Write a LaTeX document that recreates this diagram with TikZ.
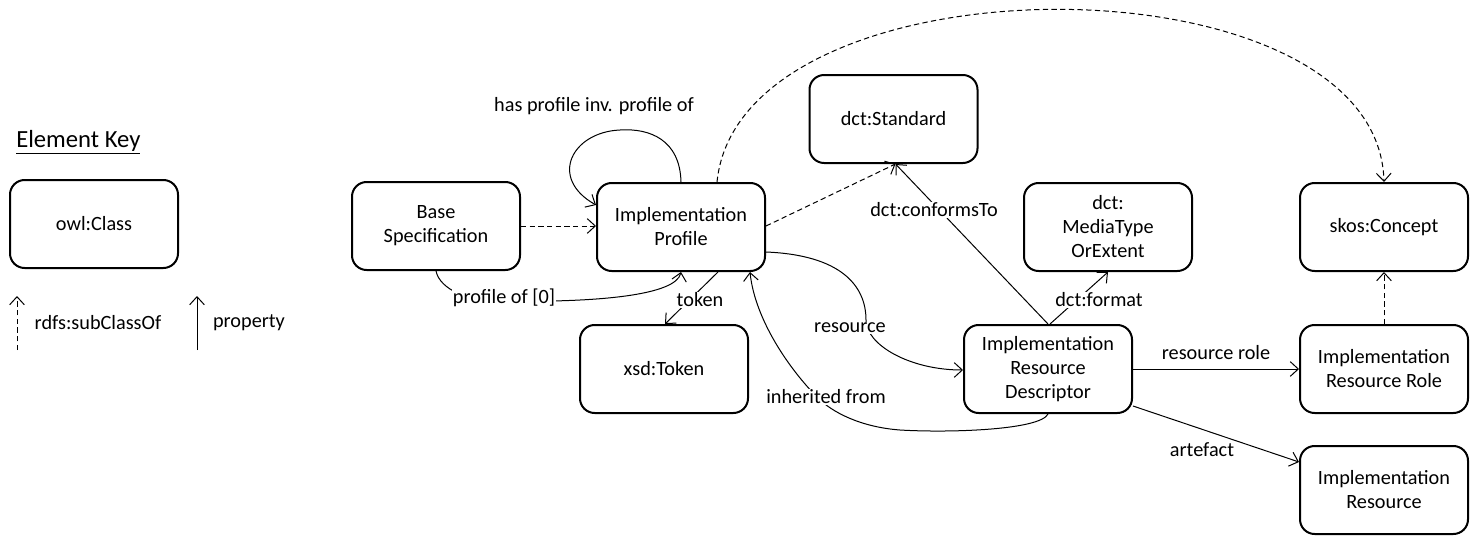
\documentclass[tikz,border=0pt]{standalone}
\usepackage{fontspec}
\setmainfont{Carlito}
\usetikzlibrary{arrows.meta,calc}
\begin{document}
\begin{tikzpicture}[x=0.75pt,y=-0.75pt,
  cls/.style={draw,line width=1.5pt,rounded corners=11pt,minimum width=126pt,minimum height=66pt,align=center,inner sep=2pt,font=\fontsize{15.2}{18}\selectfont},
  lbl/.style={fill=white,inner sep=1pt,font=\fontsize{15.2}{18}\selectfont},
  txt/.style={inner sep=1pt,font=\fontsize{15.2}{18}\selectfont},
  prop/.style={line width=0.75pt,-{Straight Barb[length=6pt,width=11pt,line width=0.75pt]}},
  sub/.style={prop,dash pattern=on 4pt off 2.5pt}]
\useasboundingbox (0,0) rectangle (1474,550);
% key
\node[inner sep=0pt,anchor=west,font=\fontsize{18.5}{20}\selectfont] (keyt) at (16,142) {\underline{Element Key}};
\node[cls] (key) at (94,224) {owl:Class};
\coordinate (ka1) at (17,350); \coordinate (ka2) at (17,296);
\coordinate (kb1) at (197,350); \coordinate (kb2) at (197,296);
\draw[sub] (ka1) -- (ka2);
\draw[prop] (kb1) -- (kb2);
\node[txt] (ksub) at (98,323) {rdfs:subClassOf};
\node[txt] (kprop) at (249,323) {property};
% classes
\node[cls] (base) at (436,226) {Base\\Specification};
\node[cls] (prof) at (681,227) {Implementation\\Profile};
\node[cls] (token) at (664,369) {xsd:Token};
\node[cls] (std) at (893.5,119) {dct:Standard};
\node[cls] (mt) at (1108,227) {dct:\\MediaType\\OrExtent};
\node[cls] (ird) at (1048,369) {Implementation\\Resource\\Descriptor};
\node[cls] (concept) at (1384,227) {skos:Concept};
\node[cls] (irr) at (1384,369) {Implementation\\Resource Role};
\node[cls] (ir) at (1384,490) {Implementation\\Resource};
% edges
\draw[sub] (base.east) -- (base.east -| prof.west);
\draw[prop] (prof.north) .. controls (680,140) and (650,128) .. (620,130) .. controls (572,132) and (548,178) .. ($(prof.west)+(0,-22)$);
\node[txt] (loopl) at (594,106) {has profile inv. profile of};
\draw[prop] (base.south) .. controls (440,290) and (470,301) .. (494,301) .. controls (600,303) and (676,295) .. (prof.south);
\node[lbl] (pol) at (504,298) {profile of [0]};
\draw[prop] ($(prof.south)+(37,0)$) -- ($(token.north)+(1,0)$);
\node[lbl] (tokl) at (700,300) {token};
\draw[sub] ($(prof.east)+(0,-1)$) -- ($(std.south)+(2,0)$);
\draw[sub] ($(prof.north)+(36,0)$) .. controls (740,-48) and (1378,-48) .. (concept.north);
\draw[prop] (ird.north) -- ($(std.south)+(2,0)$);
\node[lbl] (conf) at (934,210) {dct:conformsTo};
\draw[prop] ($(ird.north)+(2,0)$) -- (mt.south);
\node[lbl] (fmt) at (1099,300) {dct:format};
\draw[prop] ($(prof.east)+(0,25)$) .. controls (840,255) and (866,285) .. (866,320) .. controls (866,345) and (910,370) .. ($(ird.west)+(0,1)$);
\node[lbl] (resl) at (850,328) {resource};
\draw[prop] (ird.south) .. controls (1040,430) and (950,433) .. (900,430) .. controls (860,427) and (832,412) .. (818,398) .. controls (790,370) and (755,320) .. ($(prof.south)+(69,0)$);
\node[lbl] (inhl) at (826,397) {inherited from};
\draw[prop] (ird.east) -- (irr.west);
\node[txt] (rrl) at (1216,353) {resource role};
\draw[prop] ($(ird.east)+(0,37)$) -- ($(ir.west)+(0,-28)$);
\node[txt] (artl) at (1202,450) {artefact};
\draw[sub] (irr.north) -- (concept.south);
\end{tikzpicture}
\end{document}
